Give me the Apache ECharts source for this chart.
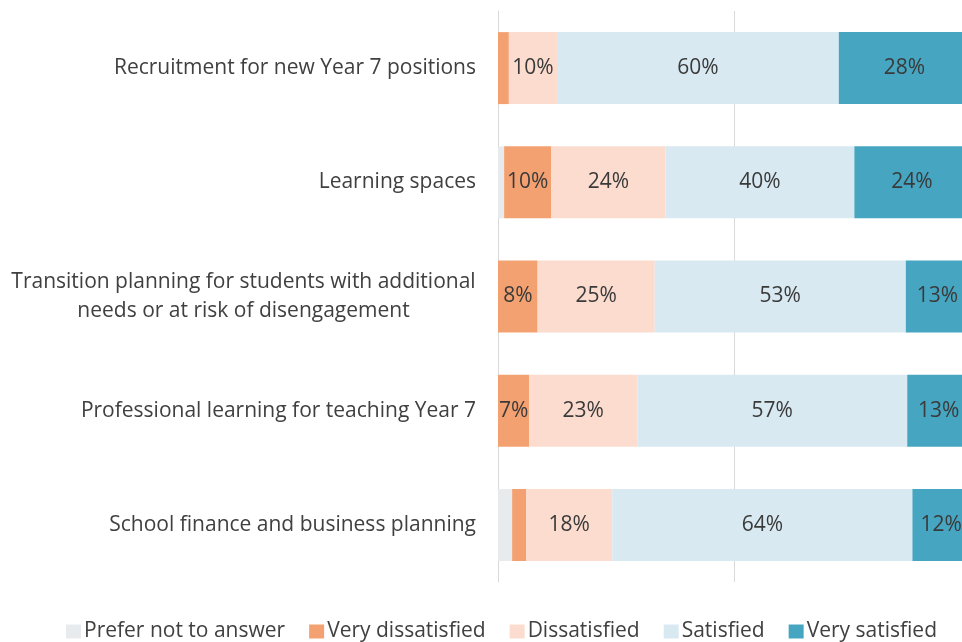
<!DOCTYPE html>
<html>
<head>
<meta charset="utf-8">
<script src="https://cdn.jsdelivr.net/npm/echarts@6/dist/echarts.min.js"></script>
<style>
  html, body { margin: 0; padding: 0; background: #fff; }
  #chart { width: 962px; height: 642px; }
</style>
</head>
<body>
<div id="chart"></div>
<script>
// categories, top to bottom
var categories = [
    "Recruitment for new Year 7 positions",
    "Learning spaces",
    "Transition planning for students with additional\nneeds or at risk of disengagement",
    "Professional learning for teaching Year 7",
    "School finance and business planning"
];
var seriesNames = ["Prefer not to answer", "Very dissatisfied", "Dissatisfied", "Satisfied", "Very satisfied"];
var preferNot = [0, 1.3, 0, 0, 3.0];
var veryDissatisfied = [2.3, 10.0, 8.4, 6.6, 3.0];
var dissatisfied = [10.2, 24.2, 24.8, 22.9, 18.2];
var satisfied = [59.7, 40.0, 53.2, 57.2, 63.6];
var verySatisfied = [27.8, 24.4, 13.4, 13.3, 12.2];
var colors = ["#e8ebed", "#f4a172", "#fbdccf", "#d9e9f2", "#46a6c2"];

var FONT = "'Open Sans', 'Noto Sans', sans-serif";
var FS = 21;

// width of the longest line, so the wrapped label can be centred
var ctx = document.createElement("canvas").getContext("2d");
ctx.font = FS + "px " + FONT;
var lineW = Math.ceil(ctx.measureText("Transition planning for students with additional").width);

var chart = echarts.init(document.getElementById("chart"));

var allData = [preferNot, veryDissatisfied, dissatisfied, satisfied, verySatisfied];
var series = seriesNames.map(function (name, i) {
    return {
        name: name,
        type: "bar",
        stack: "total",
        barWidth: 72,
        itemStyle: {color: colors[i]},
        label: {
            show: true,
            position: "inside",
            color: "#3a3a3a",
            fontSize: FS,
            fontFamily: FONT,
            formatter: function (p) {
                return p.value >= 5 ? Math.round(p.value) + "%" : "";
            }
        },
        data: allData[i]
    }
});

chart.setOption({
    animation: false,
    // the 100% end sits just past the right edge of the picture
    grid: {left: 498, width: 472, top: 11, bottom: 60, outerBoundsMode: "none", containLabel: false},
    xAxis: {
        type: "value",
        min: 0,
        max: 100,
        interval: 50,
        axisLabel: {show: false},
        axisLine: {show: false},
        axisTick: {show: false},
        splitLine: {lineStyle: {color: "#d9d9d9", width: 1}}
    },
    yAxis: {
        type: "category",
        inverse: true,
        data: categories,
        axisTick: {show: false},
        axisLine: {lineStyle: {color: "#d9d9d9"}},
        axisLabel: {
            margin: 22,
            color: "#404040",
            fontSize: FS,
            fontFamily: FONT,
            lineHeight: 29,
            formatter: function (v) {
                if (v.indexOf("\n") >= 0) {
                    return v.split("\n").map(function (s) {
                        return "{c|" + s + "}";
                    }).join("\n");
                }
                return v;
            },
            rich: {
                c: {width: lineW, align: "center", fontSize: FS, fontFamily: FONT, color: "#404040", lineHeight: 29}
            }
        }
    },
    legend: {
        top: 621,
        left: 66,
        padding: 0,
        itemWidth: 15,
        itemHeight: 14,
        itemGap: 24,
        icon: "rect",
        textStyle: {color: "#404040", fontSize: FS, fontFamily: FONT, padding: [0, 0, 0, -2]},
        data: seriesNames
    },
    series: series
});
</script>
</body>
</html>
